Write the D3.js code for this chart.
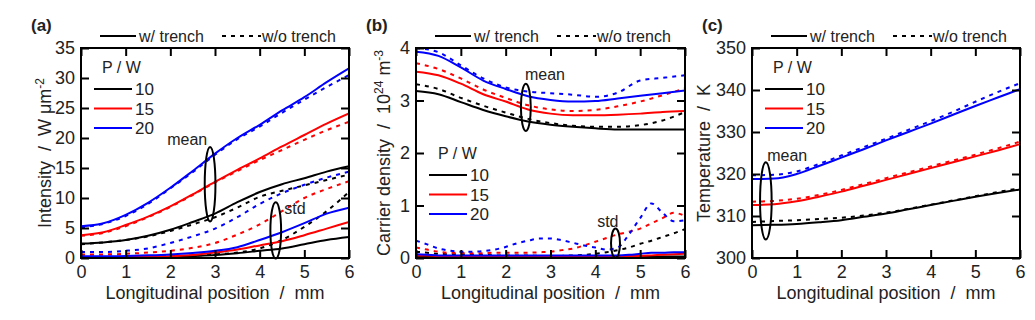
<!DOCTYPE html>
<html>
<head>
<meta charset="utf-8">
<script src="https://cdnjs.cloudflare.com/ajax/libs/d3/7.8.5/d3.min.js"></script>
<style type="text/css">
	body{ margin:0; background:#fff; }
	text{ font-family:"Liberation Sans", Arial, sans-serif; fill:#222; }
	.tick line{ stroke:#000; stroke-width:2; }
	path.domain{ display:none; }
</style>
</head>
<body>
<div id="chart"></div>
<script type="text/javascript">
/* x grid (mm) */
var xPos = [0,0.5,1,1.5,2,2.5,3,3.5,4,4.5,5,5.5,6];
var xFine = [0,0.25,0.5,0.75,1,1.25,1.5,1.75,2,2.25,2.5,2.75,3,3.25,3.5,3.75,4,4.25,4.5,4.75,5,5.25,5.5,5.75,6];
var xTicks = [0,1,2,3,4,5,6];
var powers = ["10","15","20"];

/* (a) intensity, W um^-2 */
var a_mean_w_10  = [2.4,2.6,3.0,3.7,4.7,6.0,7.4,9.3,11.0,12.3,13.3,14.4,15.3];
var a_mean_wo_10 = [2.3,2.6,3.0,3.6,4.5,5.6,6.8,8.4,10.2,11.2,12.1,13.0,13.9];
var a_mean_w_15  = [3.8,4.3,5.5,6.9,8.6,10.6,12.7,14.7,16.6,18.6,20.5,22.4,24.1];
var a_mean_wo_15 = [3.7,4.2,5.3,6.8,8.5,10.5,12.6,14.5,16.3,18.0,19.7,21.3,22.7];
var a_mean_w_20  = [5.3,5.8,7.2,9.2,11.7,14.5,17.4,20.0,22.2,24.6,26.8,29.3,31.6];
var a_mean_wo_20 = [5.1,5.7,7.0,9.0,11.6,14.3,17.2,19.8,21.9,24.2,26.4,28.5,30.5];
var a_std_w_10   = [0.05,0.05,0.1,0.15,0.2,0.35,0.5,0.8,1.2,1.6,2.3,3.0,3.5];
var a_std_wo_10  = [0.2,0.2,0.2,0.25,0.3,0.4,0.6,0.9,1.6,3.0,5.2,7.8,11.0];
var a_std_w_15   = [0.1,0.1,0.15,0.2,0.3,0.5,0.9,1.4,2.1,2.8,3.8,4.9,6.0];
var a_std_wo_15  = [0.6,0.6,0.7,0.9,1.2,1.7,2.5,3.9,5.6,7.8,10.0,11.5,12.8];
var a_std_w_20   = [0.3,0.3,0.35,0.45,0.6,0.85,1.2,1.8,3.0,4.3,5.8,7.4,8.4];
var a_std_wo_20  = [1.0,1.0,1.2,1.6,2.5,3.6,4.9,6.8,9.0,10.8,12.2,13.4,14.4];
var a_yTicks = [0,5,10,15,20,25,30,35];

/* (b) carrier density, 10^24 m^-3 */
var b_mean_w_10  = [3.18,3.12,2.97,2.82,2.70,2.60,2.54,2.50,2.47,2.45,2.45,2.45,2.45];
var b_mean_wo_10 = [3.31,3.22,3.05,2.90,2.77,2.65,2.57,2.52,2.50,2.50,2.53,2.62,2.78];
var b_mean_w_15  = [3.55,3.48,3.32,3.12,2.98,2.83,2.75,2.72,2.72,2.73,2.75,2.78,2.80];
var b_mean_wo_15 = [3.71,3.60,3.42,3.21,3.05,2.91,2.83,2.80,2.82,2.89,2.98,3.10,3.23];
var b_mean_w_20  = [3.93,3.85,3.63,3.38,3.22,3.08,3.01,2.98,2.99,3.04,3.09,3.14,3.19];
var b_mean_wo_20 = [4.00,3.92,3.67,3.42,3.25,3.17,3.14,3.11,3.07,3.15,3.38,3.43,3.48];
var b_std_w_10   = [0.02,0.02,0.02,0.02,0.02,0.02,0.02,0.02,0.02,0.02,0.02,0.02,0.02,0.02,0.02,0.02,0.02,0.02,0.02,0.02,0.02,0.02,0.03,0.03,0.03];
var b_std_wo_10  = [0.12,0.10,0.08,0.07,0.07,0.06,0.06,0.05,0.05,0.05,0.05,0.04,0.04,0.04,0.05,0.06,0.08,0.11,0.15,0.20,0.27,0.33,0.40,0.47,0.55];
var b_std_w_15   = [0.05,0.05,0.04,0.04,0.04,0.04,0.04,0.04,0.04,0.04,0.04,0.04,0.04,0.04,0.04,0.04,0.04,0.04,0.04,0.04,0.04,0.05,0.06,0.07,0.08];
var b_std_wo_15  = [0.20,0.16,0.12,0.10,0.10,0.09,0.09,0.10,0.10,0.10,0.10,0.11,0.12,0.15,0.18,0.24,0.31,0.38,0.45,0.50,0.56,0.66,0.76,0.86,0.80];
var b_std_w_20   = [0.07,0.06,0.05,0.05,0.05,0.05,0.05,0.05,0.05,0.05,0.05,0.05,0.05,0.05,0.05,0.05,0.05,0.05,0.05,0.06,0.08,0.10,0.10,0.11,0.11];
var b_std_wo_20  = [0.33,0.26,0.18,0.14,0.12,0.12,0.13,0.16,0.21,0.28,0.33,0.37,0.37,0.34,0.29,0.24,0.20,0.16,0.20,0.45,0.76,1.04,0.86,0.70,0.72];
var b_yTicks = [0,1,2,3,4];

/* (c) temperature, K */
var c_mean_w_10  = [307.8,307.9,308.1,308.5,309.0,309.8,310.6,311.6,312.6,313.6,314.6,315.5,316.3];
var c_mean_wo_10 = [308.6,308.8,309.0,309.3,309.6,310.1,310.8,311.7,312.7,313.7,314.7,315.7,316.6];
var c_mean_w_15  = [312.6,312.8,313.5,314.6,315.8,317.2,318.6,320.0,321.4,322.8,324.2,325.6,327.1];
var c_mean_wo_15 = [313.4,313.6,314.1,315.0,316.2,317.6,319.0,320.4,321.8,323.2,324.6,326.1,327.7];
var c_mean_w_20  = [318.8,318.9,320.0,321.9,323.9,325.9,328.0,330.0,332.0,334.1,336.2,338.2,340.2];
var c_mean_wo_20 = [319.7,319.8,320.6,322.4,324.4,326.4,328.4,330.5,332.6,334.8,337.2,339.5,341.6];
var c_yTicks = [300,310,320,330,340,350];

var powerColor = {"10":"#000000","15":"#ff0000","20":"#0000ff"};
var svg = null;
var SP = "\u00a0";

function init_draw(parent,w,h){
	d3.select(parent).select("svg").remove();
	return d3.select(parent).append("svg").attr("width",w).attr("height",h);
}
function linear_scale(d_extent,r_extent){
	return d3.scaleLinear().domain(d_extent).range(r_extent);
}
/* one curve through the panel scales */
function draw_line(g,xs,ys,sx,sy,ccolor,dashed){
	var pts = xs.map(function(d,i){ return [d,ys[i]]; });
	var cline = d3.line().curve(d3.curveMonotoneX)
		.x(function(d){ return sx(d[0]); }).y(function(d){ return sy(d[1]); });
	g.append("path").attr("d",cline(pts))
		.attr("stroke",ccolor).attr("stroke-width",2).attr("fill","none")
		.attr("stroke-dasharray",dashed ? "4,5" : null);
}

var panels = [
	{id:"a", label:"(a)", left:81, right:349, yDomain:[0,35], yTicks:a_yTicks,
	 series:[
		[xPos,a_mean_w_10,"10",false],[xPos,a_mean_wo_10,"10",true],
		[xPos,a_mean_w_15,"15",false],[xPos,a_mean_wo_15,"15",true],
		[xPos,a_mean_w_20,"20",false],[xPos,a_mean_wo_20,"20",true],
		[xPos,a_std_wo_10,"10",true],[xPos,a_std_wo_15,"15",true],[xPos,a_std_wo_20,"20",true],
		[xPos,a_std_w_10,"10",false],[xPos,a_std_w_15,"15",false],[xPos,a_std_w_20,"20",false]],
	 ellipses:[{cx:2.89,cy:12.3,rx:0.12,ry:6.2},{cx:4.36,cy:4.6,rx:0.12,ry:4.7}],
	 notes:[{t:"mean",x:1.93,y:18.8},{t:"std",x:4.55,y:7.4}],
	 title:["Intensity"+SP+SP+"/"+SP+SP+"W \u03bcm","-2",""], titleX:45},
	{id:"b", label:"(b)", left:416, right:685, yDomain:[0,4], yTicks:b_yTicks,
	 series:[
		[xPos,b_mean_w_10,"10",false],[xPos,b_mean_wo_10,"10",true],
		[xPos,b_mean_w_15,"15",false],[xPos,b_mean_wo_15,"15",true],
		[xPos,b_mean_w_20,"20",false],[xPos,b_mean_wo_20,"20",true],
		[xFine,b_std_wo_10,"10",true],[xFine,b_std_wo_15,"15",true],[xFine,b_std_wo_20,"20",true],
		[xFine,b_std_w_10,"10",false],[xFine,b_std_w_15,"15",false],[xFine,b_std_w_20,"20",false]],
	 ellipses:[{cx:2.45,cy:2.87,rx:0.11,ry:0.45},{cx:4.45,cy:0.28,rx:0.1,ry:0.28}],
	 notes:[{t:"mean",x:2.43,y:3.39},{t:"std",x:4.04,y:0.6}],
	 title:["Carrier density"+SP+SP+"/"+SP+SP+"10","24",SP+"m","-3"], titleX:384},
	{id:"c", label:"(c)", left:752, right:1020, yDomain:[300,350], yTicks:c_yTicks,
	 series:[
		[xPos,c_mean_w_10,"10",false],[xPos,c_mean_wo_10,"10",true],
		[xPos,c_mean_w_15,"15",false],[xPos,c_mean_wo_15,"15",true],
		[xPos,c_mean_w_20,"20",false],[xPos,c_mean_wo_20,"20",true]],
	 ellipses:[{cx:0.31,cy:313.6,rx:0.13,ry:9.2}],
	 notes:[{t:"mean",x:0.34,y:323.0}],
	 title:["Temperature"+SP+SP+"/"+SP+SP+"K"], titleX:704}
];

var top_y = 48, bottom_y = 258, tick_len = 8;

function draw_panel(p){
	var g = svg.append("g").attr("id","panel_"+p.id);
	var sx = linear_scale([0,6],[p.left,p.right]);
	var sy = linear_scale(p.yDomain,[bottom_y,top_y]);
	g.append("clipPath").attr("id","clip_"+p.id).append("rect")
		.attr("x",p.left).attr("y",top_y).attr("width",p.right-p.left).attr("height",bottom_y-top_y);
	var curves = g.append("g").attr("clip-path","url(#clip_"+p.id+")");
	p.series.forEach(function(s){
		draw_line(curves,s[0],s[1],sx,sy,powerColor[s[2]],s[3]);
	});
	/* annotation ellipses */
	p.ellipses.forEach(function(e){
		g.append("ellipse").attr("cx",sx(e.cx)).attr("cy",sy(e.cy))
			.attr("rx",sx(e.rx)-sx(0)).attr("ry",sy(p.yDomain[0])-sy(p.yDomain[0]+e.ry))
			.attr("fill","none").attr("stroke","#000").attr("stroke-width",2);
	});
	p.notes.forEach(function(n){
		g.append("text").attr("x",sx(n.x)).attr("y",sy(n.y)).style("font-size","16px").text(n.t);
	});
	/* frame */
	g.append("rect").attr("x",p.left).attr("y",top_y).attr("width",p.right-p.left).attr("height",bottom_y-top_y)
		.attr("fill","none").attr("stroke","#000").attr("stroke-width",2);
	/* axes, inward ticks */
	g.append("g").attr("transform","translate(0,"+bottom_y+")")
		.call(d3.axisBottom(sx).tickValues(xTicks).tickSize(-tick_len).tickPadding(7).tickFormat(d3.format("d")));
	g.append("g").attr("transform","translate(0,"+top_y+")")
		.call(d3.axisTop(sx).tickValues(xTicks).tickSize(-tick_len).tickFormat(""));
	g.append("g").attr("transform","translate("+p.left+",0)")
		.call(d3.axisLeft(sy).tickValues(p.yTicks).tickSize(-tick_len).tickPadding(6).tickFormat(d3.format("d")));
	g.append("g").attr("transform","translate("+p.right+",0)")
		.call(d3.axisRight(sy).tickValues(p.yTicks).tickSize(-tick_len).tickFormat(""));
	g.selectAll(".tick text").attr("fill","#222").style("font-size","18px")
		.style("font-family","'Liberation Sans', Arial, sans-serif");
	/* axis titles */
	var mid = (p.left+p.right)/2;
	g.append("text").attr("x",mid).attr("y",299).attr("text-anchor","middle")
		.style("font-size","18px").text("Longitudinal position"+SP+SP+"/"+SP+SP+"mm");
	var yt = g.append("text").attr("text-anchor","middle").style("font-size","18px")
		.attr("transform","translate("+p.titleX+","+((top_y+bottom_y)/2)+") rotate(-90)").attr("y",6);
	p.title.forEach(function(part,i){
		var t = yt.append("tspan").text(part);
		if(i % 2 == 1){ t.attr("dy",-7).style("font-size","12px"); }
		else if(i > 0){ t.attr("dy",7); }
	});
	/* panel letter */
	g.append("text").attr("x",p.left-50).attr("y",31).style("font-size","17px").style("font-weight","bold").text(p.label);
	/* top legend */
	var lx = p.left+19;
	g.append("line").attr("x1",lx).attr("x2",lx+36).attr("y1",36).attr("y2",36).attr("stroke","#000").attr("stroke-width",2);
	g.append("text").attr("x",lx+39).attr("y",42).style("font-size","16px").text("w/ trench");
	g.append("line").attr("x1",lx+122).attr("x2",lx+161).attr("y1",36).attr("y2",36).attr("stroke","#000").attr("stroke-width",2).attr("stroke-dasharray","4,5");
	g.append("text").attr("x",lx+162).attr("y",42).style("font-size","16px").text("w/o trench");
	/* power legend */
	var py = p.id == "b" ? 153 : 67;
	g.append("text").attr("x",p.left+(p.id=="b"?22:21)).attr("y",py+6).style("font-size","16px").text("P / W");
	powers.forEach(function(pw,i){
		var yy = py+22+i*19.5;
		g.append("line").attr("x1",p.left+13).attr("x2",p.left+51).attr("y1",yy).attr("y2",yy)
			.attr("stroke",powerColor[pw]).attr("stroke-width",2);
		g.append("text").attr("x",p.left+54).attr("y",yy+6).style("font-size","17px").text(pw);
	});
}

svg = init_draw("#chart",1035,320);
panels.forEach(draw_panel);
</script>
</body>
</html>
